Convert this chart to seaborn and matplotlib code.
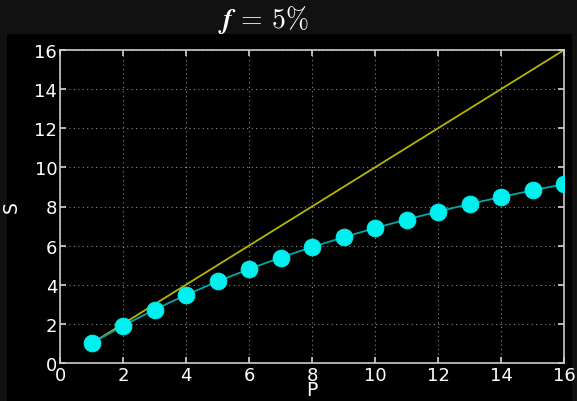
import matplotlib
matplotlib.use("Agg")
import matplotlib.pyplot as plt
import seaborn as sns
import pandas as pd
from matplotlib.patches import Rectangle

P = [1, 2, 3, 4, 5, 6, 7, 8, 9, 10, 11, 12, 13, 14, 15, 16]
S = [1.0, 1.905, 2.727, 3.478, 4.167, 4.8, 5.385, 5.926, 6.429, 6.897,
     7.333, 7.742, 8.125, 8.485, 8.824, 9.143]
ideal = [1, 16]
xticks = [0, 2, 4, 6, 8, 10, 12, 14, 16]
yticks = [0, 2, 4, 6, 8, 10, 12, 14, 16]
title = r"$\mathbfit{f}\,\mathbf{=}\,\mathbf{5\%}$"

sns.set_theme(style="dark")
plt.rcParams["font.family"] = ["DejaVu Sans"]
plt.rcParams["mathtext.fontset"] = "cm"

df = pd.DataFrame({"P": P, "S": S})
df_ideal = pd.DataFrame({"P": ideal, "S": ideal})

fig = plt.figure(figsize=(5.77, 4.02), dpi=100, facecolor="#111111")
bg = Rectangle((7 / 577, 0), (572 - 7) / 577, (402 - 35) / 402,
               transform=fig.transFigure, facecolor="black",
               edgecolor="none", zorder=-10)
fig.patches.append(bg)
ax = fig.add_axes([60 / 577, (402 - 364) / 402, (564 - 60) / 577, (364 - 51) / 402])
ax.set_zorder(5)
ax.set_facecolor("black")

sns.lineplot(data=df_ideal, x="P", y="S", ax=ax, color="#b5b500", lw=1.3, zorder=2)
sns.lineplot(data=df, x="P", y="S", ax=ax, color="#00a8a8", lw=1.3, marker="o",
             markersize=12, markerfacecolor="#00f0f0", markeredgecolor="#00f0f0",
             zorder=3)

ax.set_xlim(0, 16)
ax.set_ylim(0, 16)
ax.set_xticks(xticks)
ax.set_yticks(yticks)
ax.grid(True, color="#888888", linestyle=(0, (1, 3)), lw=0.8)
for s in ax.spines.values():
    s.set_visible(True)
    s.set_color("#cccccc")
    s.set_linewidth(1.2)
ax.tick_params(direction="in", length=4, colors="#cccccc", labelcolor="white",
               labelsize=13, top=True, right=True, bottom=True, left=True, pad=2)
ax.set_xlabel("P", color="white", fontsize=13.5, labelpad=-3)
ax.set_ylabel("S", color="white", fontsize=13.5, labelpad=10)
fig.text(263 / 577, 0.95, title, color="white", fontsize=20, ha="center", va="center")

fig.savefig("out.png", dpi=100, facecolor=fig.get_facecolor())
